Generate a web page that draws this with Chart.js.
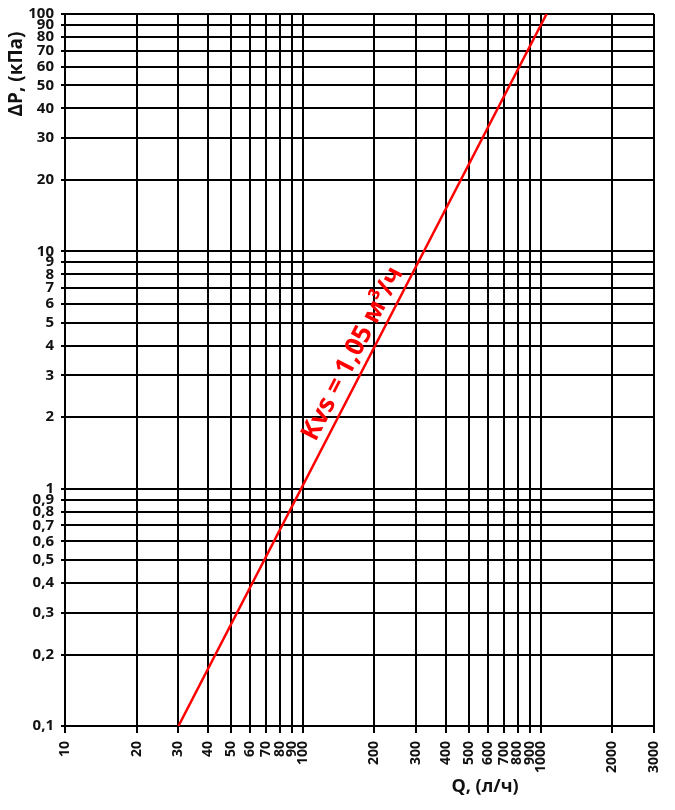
<!DOCTYPE html>
<html>
<head>
<meta charset="utf-8">
<script src="https://cdn.jsdelivr.net/npm/chart.js@4/dist/chart.umd.min.js"></script>
<style>
html,body{margin:0;padding:0;background:#fff;}
canvas{display:block;}
</style>
</head>
<body>
<canvas id="c" width="675" height="810"></canvas>
<script>
const xTickValues = [10,20,30,40,50,60,70,80,90,100,200,300,400,500,600,700,800,900,1000,2000,3000];
const xTickLabels = ['10','20','30','40','50','60','70','80','90','100','200','300','400','500','600','700','800','900','1000','2000','3000'];
const yTickValues = [0.1,0.2,0.3,0.4,0.5,0.6,0.7,0.8,0.9,1,2,3,4,5,6,7,8,9,10,20,30,40,50,60,70,80,90,100];
const yTickLabels = ['0,1','0,2','0,3','0,4','0,5','0,6','0,7','0,8','0,9','1','2','3','4','5','6','7','8','9','10','20','30','40','50','60','70','80','90','100'];
const lineQ = [30, 1060];
const lineDP = [0.1, 100];
const lineLabel = 'Kvs = 1,05 м³/ч';
const xTitle = 'Q, (л/ч)';
const yTitle = 'ΔP, (кПа)';

const FONT = '"Open Sans", "Noto Sans", sans-serif';
const textColor = '#111';

const overlay = {
  id: 'overlay',
  afterDatasetsDraw(chart) {
    const ctx = chart.ctx;
    const xs = chart.scales.x, ys = chart.scales.y;
    const x0 = xs.getPixelForValue(lineQ[0]), y0 = ys.getPixelForValue(lineDP[0]);
    const x1 = xs.getPixelForValue(lineQ[1]), y1 = ys.getPixelForValue(lineDP[1]);
    const ang = Math.atan2(y1 - y0, x1 - x0);
    const t = 0.5125;
    const px = x0 + (x1 - x0) * t, py = y0 + (y1 - y0) * t;
    const nx = Math.sin(ang), ny = -Math.cos(ang);
    const off = 16;
    ctx.save();
    ctx.translate(px + nx * off, py + ny * off);
    ctx.rotate(ang);
    ctx.fillStyle = '#ff0000';
    ctx.font = 'bold 26px ' + FONT;
    ctx.textAlign = 'center';
    ctx.textBaseline = 'middle';
    ctx.fillText(lineLabel, 0, 0);
    ctx.restore();

    ctx.save();
    ctx.fillStyle = textColor;
    ctx.font = 'bold 18px ' + FONT;
    ctx.textAlign = 'center';
    ctx.textBaseline = 'middle';
    ctx.fillText(xTitle, 485, 787);
    ctx.font = 'bold 19px ' + FONT;
    ctx.translate(17, 74);
    ctx.rotate(-Math.PI / 2);
    ctx.fillText(yTitle, 0, 0);
    ctx.restore();
  }
};

new Chart(document.getElementById('c'), {
  type: 'line',
  data: {
    datasets: [{
      data: lineQ.map((q, i) => ({x: q, y: lineDP[i]})),
      borderColor: '#ff0000',
      borderWidth: 2.5,
      pointRadius: 0,
      tension: 0,
      fill: false
    }]
  },
  options: {
    responsive: false,
    animation: false,
    devicePixelRatio: 1,
    layout: {padding: {top: 14, right: 21, left: 0, bottom: 0}},
    plugins: {legend: {display: false}, tooltip: {enabled: false}},
    scales: {
      x: {
        type: 'logarithmic',
        min: 10, max: 3000,
        afterBuildTicks: s => { s.ticks = xTickValues.map(v => ({value: v})); },
        afterFit: s => { s.height = 84; s.paddingLeft = 0; s.paddingRight = 0; },
        ticks: {
          autoSkip: false, minRotation: 90, maxRotation: 90,
          padding: 8,
          color: textColor,
          font: {family: FONT, size: 14, weight: 'bold'},
          callback: (v, i) => xTickLabels[i]
        },
        grid: {color: '#000', lineWidth: 2, tickLength: 7, drawTicks: true},
        border: {color: '#000', width: 2}
      },
      y: {
        type: 'logarithmic',
        min: 0.1, max: 100,
        afterBuildTicks: s => { s.ticks = yTickValues.map(v => ({value: v})); },
        afterFit: s => { s.width = 65; s.paddingTop = 0; s.paddingBottom = 0; },
        ticks: {
          autoSkip: false,
          padding: 7,
          color: textColor,
          font: {family: FONT, size: 15, weight: 'bold'},
          callback: (v, i) => yTickLabels[i]
        },
        grid: {color: '#000', lineWidth: 2, tickLength: 4, drawTicks: true},
        border: {color: '#000', width: 2}
      }
    }
  },
  plugins: [overlay]
});
</script>
</body>
</html>
